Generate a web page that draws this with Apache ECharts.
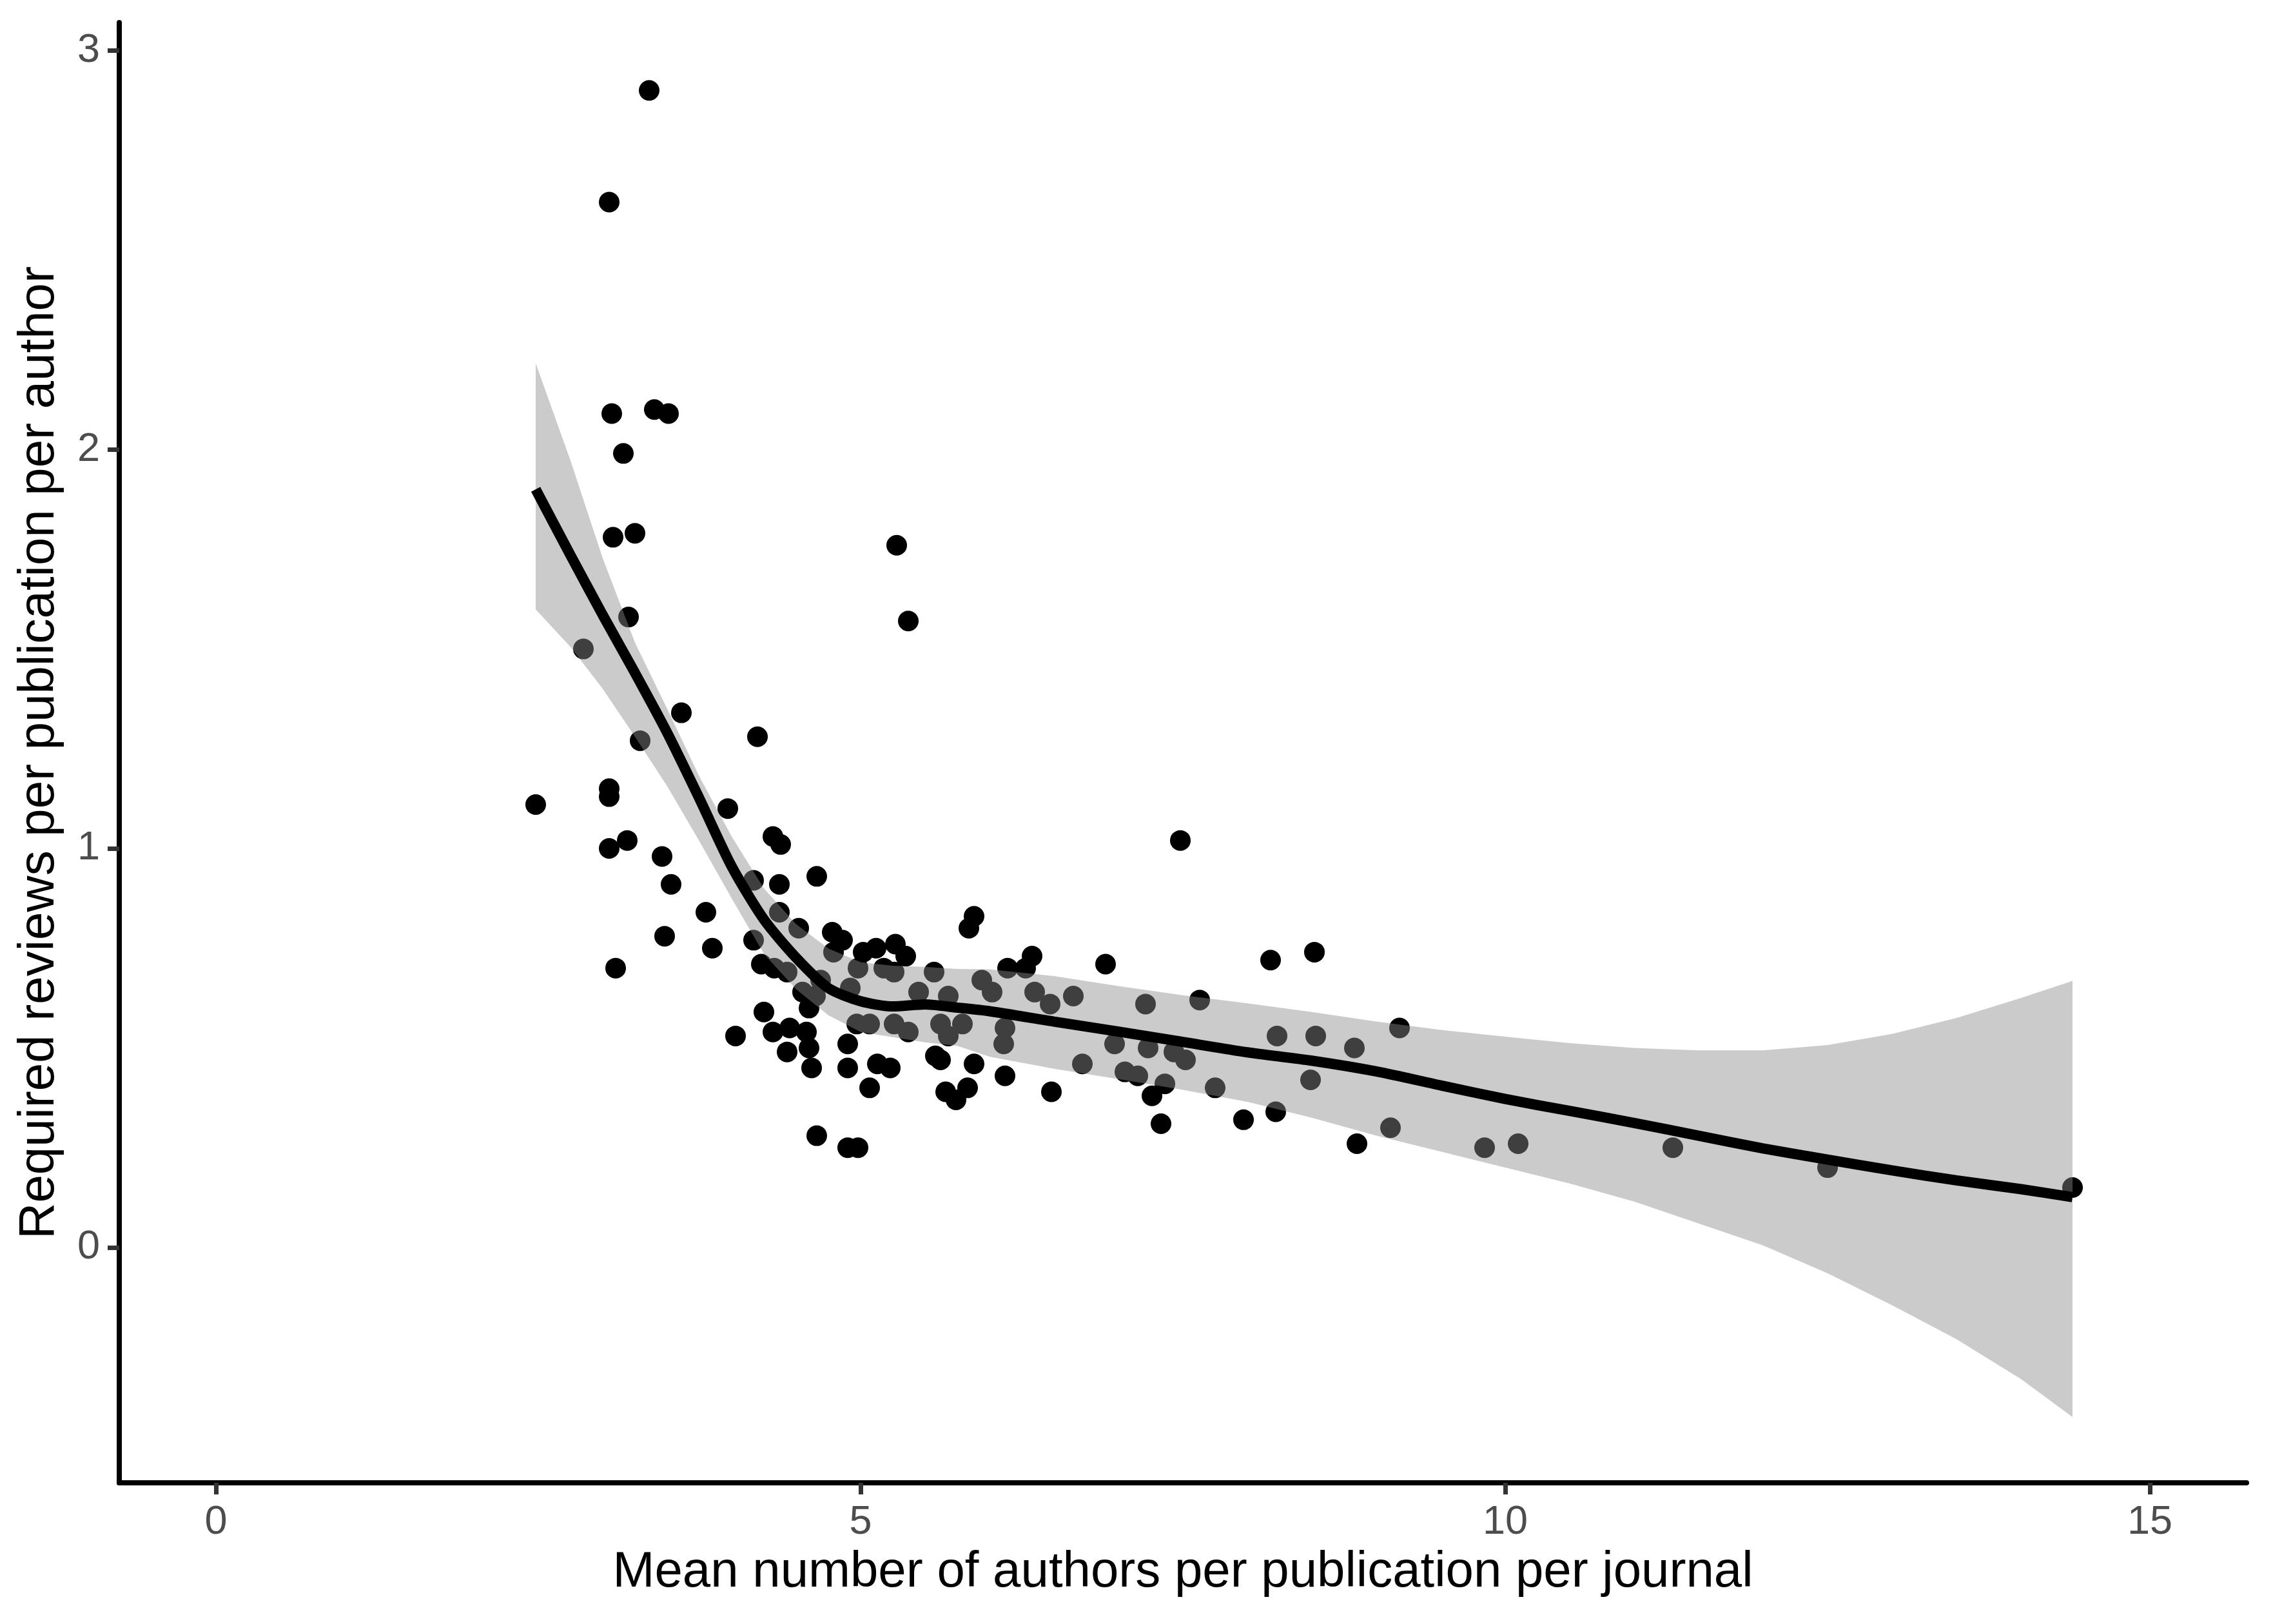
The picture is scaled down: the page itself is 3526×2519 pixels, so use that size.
<!DOCTYPE html>
<html>
<head>
<meta charset="utf-8">
<script src="https://cdn.jsdelivr.net/npm/echarts@6/dist/echarts.min.js"></script>
<style>
    html, body { margin: 0; padding: 0; background: #fff; }
    #main { width: 3526px; height: 2519px; }
</style>
</head>
<body>
<div id="main"></div>
<script>
// scatter points (mean authors, required reviews)
const authorsX = [2.48, 2.85, 3.05, 3.05, 3.05, 3.19, 3.10, 3.05, 3.07, 3.08, 3.16, 3.20, 3.25, 3.29, 3.36, 3.40, 3.51, 3.61, 3.46, 3.53,
    3.48, 3.80, 3.85, 3.97, 4.20, 4.32, 4.38, 4.66, 4.17, 4.37, 4.37, 4.52, 4.78, 4.86, 4.79, 5.02, 5.12, 5.27, 5.35, 5.18,
    5.26, 4.98, 5.57, 4.17, 4.23, 4.33, 4.43, 4.69, 4.55, 4.65, 4.60, 4.92, 5.45, 5.68, 4.25, 4.03, 4.32, 4.45, 4.58, 4.43,
    4.60, 4.62, 4.90, 4.90, 4.97, 5.07, 5.26, 5.37, 5.62, 5.68, 5.79, 5.13, 5.23, 5.07, 5.58, 5.62, 5.66, 5.74, 4.66, 4.90,
    4.98, 5.88, 5.84, 6.33, 6.14, 6.28, 6.90, 5.94, 6.02, 6.35, 6.47, 6.65, 7.21, 7.63, 6.12, 6.11, 5.88, 6.12, 5.83, 6.48,
    6.72, 6.97, 7.23, 7.43, 7.52, 7.05, 7.15, 7.26, 7.36, 7.33, 7.75, 7.48, 8.18, 8.52, 8.23, 8.53, 8.83, 9.18, 8.49, 7.97,
    8.22, 8.85, 9.11, 9.84, 10.10, 11.30, 12.50, 14.40, 5.28, 5.37];
const reviewsY = [1.11, 1.50, 1.15, 1.13, 1.00, 1.02, 0.70, 2.62, 2.09, 1.78, 1.99, 1.58, 1.79, 1.27, 2.90, 2.10, 2.09, 1.34, 0.98, 0.91,
    0.78, 0.84, 0.75, 1.10, 1.28, 1.03, 1.01, 0.93, 0.92, 0.91, 0.84, 0.80, 0.79, 0.77, 0.74, 0.74, 0.75, 0.76, 0.73, 0.70,
    0.69, 0.70, 0.69, 0.77, 0.71, 0.70, 0.69, 0.67, 0.64, 0.63, 0.60, 0.65, 0.64, 0.63, 0.59, 0.53, 0.54, 0.55, 0.54, 0.49,
    0.50, 0.45, 0.51, 0.45, 0.56, 0.56, 0.56, 0.54, 0.56, 0.53, 0.56, 0.46, 0.45, 0.40, 0.48, 0.47, 0.39, 0.37, 0.28, 0.25,
    0.25, 0.83, 0.80, 0.73, 0.70, 0.70, 0.71, 0.67, 0.64, 0.64, 0.61, 0.63, 0.61, 0.62, 0.55, 0.51, 0.46, 0.43, 0.40, 0.39,
    0.46, 0.51, 0.50, 0.49, 0.47, 0.44, 0.43, 0.38, 0.41, 0.31, 0.40, 1.02, 0.72, 0.74, 0.53, 0.53, 0.50, 0.55, 0.42, 0.32,
    0.34, 0.26, 0.30, 0.25, 0.26, 0.25, 0.20, 0.15, 1.76, 1.57];

// loess fit and its confidence band
const smoothX = [2.48, 2.75, 3.0, 3.25, 3.5, 3.75, 4.0, 4.25, 4.5, 4.75, 5.0, 5.25, 5.5, 5.75, 6.0, 6.5,
    7.0, 7.5, 8.0, 8.5, 9.0, 9.5, 10.0, 10.5, 11.0, 11.5, 12.0, 12.5, 13.0, 13.5, 14.0, 14.4];
const smoothFit = [1.90, 1.735, 1.585, 1.44, 1.29, 1.125, 0.955, 0.822, 0.726, 0.650, 0.617, 0.604, 0.609, 0.601, 0.592, 0.566,
    0.541, 0.515, 0.489, 0.468, 0.441, 0.406, 0.372, 0.342, 0.312, 0.280, 0.248, 0.220, 0.193, 0.168, 0.146, 0.126];
const smoothUpper = [2.216, 1.972, 1.727, 1.516, 1.35, 1.18, 1.03, 0.90, 0.81, 0.749, 0.715, 0.706, 0.703, 0.698, 0.697, 0.68,
    0.655, 0.632, 0.612, 0.59, 0.566, 0.545, 0.528, 0.512, 0.500, 0.494, 0.494, 0.507, 0.535, 0.575, 0.625, 0.668];
const smoothLower = [1.599, 1.505, 1.40, 1.28, 1.156, 1.018, 0.875, 0.736, 0.647, 0.582, 0.54, 0.527, 0.514, 0.505, 0.478, 0.448,
    0.422, 0.395, 0.365, 0.325, 0.28, 0.24, 0.20, 0.16, 0.115, 0.06, 0.005, -0.065, -0.145, -0.23, -0.33, -0.425];

const xTicks = [0, 5, 10, 15];
const yTicks = [0, 1, 2, 3];

const fontFamily = 'Liberation Sans, Arial, sans-serif';

let axisCommon = {
    type: 'value',
    nameLocation: 'middle',
    nameTextStyle: { color: '#000', fontSize: 78, fontFamily: fontFamily },
    axisLine: { onZero: false, lineStyle: { color: '#000', width: 8 } },
    axisTick: { length: 18, lineStyle: { color: '#333', width: 7 } },
    splitLine: { show: false }
};

let option = {
    backgroundColor: '#fff',
    animation: false,
    grid: { left: 185, top: 35, width: 3300, height: 2265 },
    xAxis: Object.assign({}, axisCommon, {
        name: 'Mean number of authors per publication per journal',
        nameGap: 100,
        min: -0.75,
        max: 15.75,
        axisTick: Object.assign({}, axisCommon.axisTick, { customValues: xTicks }),
        axisLabel: { customValues: xTicks, color: '#4d4d4d', fontSize: 63, fontFamily: fontFamily, margin: 30 }
    }),
    yAxis: Object.assign({}, axisCommon, {
        name: 'Required reviews per publication per author',
        nameGap: 85,
        min: -0.59,
        max: 3.07,
        axisTick: Object.assign({}, axisCommon.axisTick, { customValues: yTicks }),
        axisLabel: { customValues: yTicks, color: '#4d4d4d', fontSize: 63, fontFamily: fontFamily, margin: 30 }
    }),
    series: [
        {
            type: 'scatter',
            z: 2,
            symbolSize: 32,
            itemStyle: { color: '#000', opacity: 1 },
            data: authorsX.map((x, i) => [x, reviewsY[i]])
        },
        {
            // confidence ribbon, drawn over the points like geom_smooth
            type: 'custom',
            z: 3,
            silent: true,
            data: smoothX.map((x, i) => [x, smoothFit[i]]),
            renderItem: function (params, api) {
                if (params.dataIndex !== 0) return;
                let pts = [];
                for (let i = 0; i < smoothX.length; i++) pts.push(api.coord([smoothX[i], smoothUpper[i]]));
                for (let i = smoothX.length - 1; i >= 0; i--) pts.push(api.coord([smoothX[i], smoothLower[i]]));
                return {
                    type: 'polygon',
                    shape: { points: pts },
                    style: { fill: 'rgba(140,140,140,0.45)' }
                };
            }
        },
        {
            type: 'line',
            z: 4,
            smooth: 0.25,
            symbol: 'none',
            lineStyle: { color: '#000', width: 16 },
            data: smoothX.map((x, i) => [x, smoothFit[i]])
        }
    ]
};

let myChart = echarts.init(document.getElementById('main'));
myChart.setOption(option);
</script>
</body>
</html>
